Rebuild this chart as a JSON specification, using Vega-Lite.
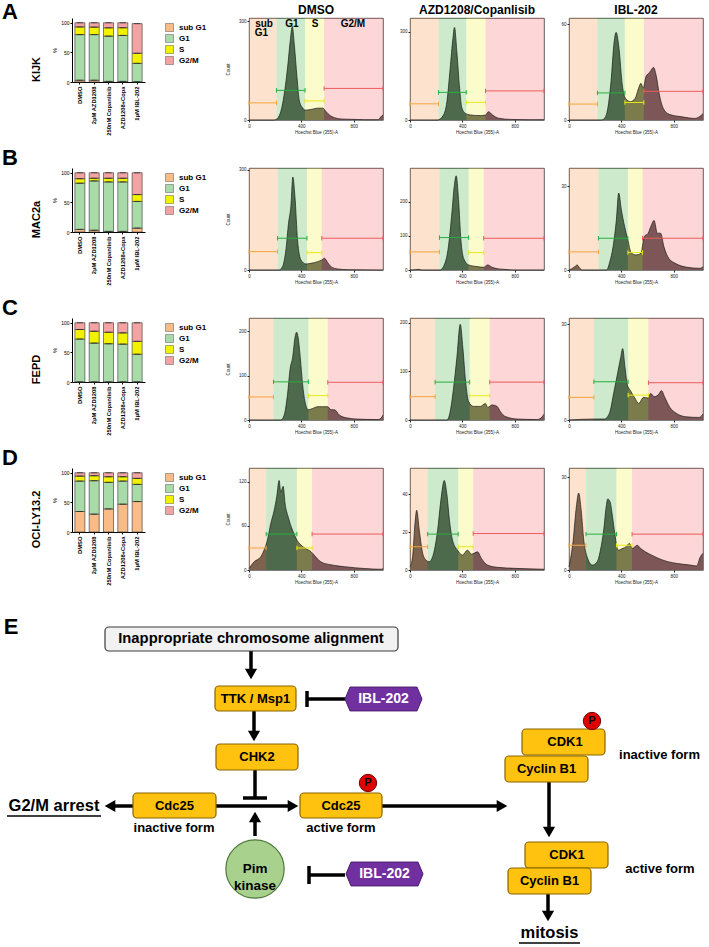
{
"$schema":"https://vega.github.io/schema/vega-lite/v6.json",
"padding":{"left":2,"top":0,"right":0,"bottom":0},
"config":{"font":"Liberation Sans","view":{"stroke":"#333","strokeWidth":0.8},"axis":{"grid":false,"labelColor":"#222","titleColor":"#222","domainColor":"#222","tickColor":"#222","labelFlush":false},"title":{"color":"black"}},
"datasets":{
"bars":[
{"cell":"KIJK","cond":"DMSO","phase":"sub G1","k":0,"pct":3},{"cell":"KIJK","cond":"DMSO","phase":"G1","k":1,"pct":77},{"cell":"KIJK","cond":"DMSO","phase":"S","k":2,"pct":13},{"cell":"KIJK","cond":"DMSO","phase":"G2/M","k":3,"pct":7},
{"cell":"KIJK","cond":"2μM AZD1208","phase":"sub G1","k":0,"pct":3},{"cell":"KIJK","cond":"2μM AZD1208","phase":"G1","k":1,"pct":77},{"cell":"KIJK","cond":"2μM AZD1208","phase":"S","k":2,"pct":12.7},{"cell":"KIJK","cond":"2μM AZD1208","phase":"G2/M","k":3,"pct":7.3},
{"cell":"KIJK","cond":"250nM Copanlisib","phase":"sub G1","k":0,"pct":1},{"cell":"KIJK","cond":"250nM Copanlisib","phase":"G1","k":1,"pct":76.5},{"cell":"KIJK","cond":"250nM Copanlisib","phase":"S","k":2,"pct":14},{"cell":"KIJK","cond":"250nM Copanlisib","phase":"G2/M","k":3,"pct":8.5},
{"cell":"KIJK","cond":"AZD1208+Copa","phase":"sub G1","k":0,"pct":1},{"cell":"KIJK","cond":"AZD1208+Copa","phase":"G1","k":1,"pct":77.6},{"cell":"KIJK","cond":"AZD1208+Copa","phase":"S","k":2,"pct":13},{"cell":"KIJK","cond":"AZD1208+Copa","phase":"G2/M","k":3,"pct":8.4},
{"cell":"KIJK","cond":"1μM IBL-202","phase":"sub G1","k":0,"pct":0.5},{"cell":"KIJK","cond":"1μM IBL-202","phase":"G1","k":1,"pct":31},{"cell":"KIJK","cond":"1μM IBL-202","phase":"S","k":2,"pct":17},{"cell":"KIJK","cond":"1μM IBL-202","phase":"G2/M","k":3,"pct":50},
{"cell":"MAC2a","cond":"DMSO","phase":"sub G1","k":0,"pct":4.4},{"cell":"MAC2a","cond":"DMSO","phase":"G1","k":1,"pct":78},{"cell":"MAC2a","cond":"DMSO","phase":"S","k":2,"pct":7.6},{"cell":"MAC2a","cond":"DMSO","phase":"G2/M","k":3,"pct":10},
{"cell":"MAC2a","cond":"2μM AZD1208","phase":"sub G1","k":0,"pct":3},{"cell":"MAC2a","cond":"2μM AZD1208","phase":"G1","k":1,"pct":83.3},{"cell":"MAC2a","cond":"2μM AZD1208","phase":"S","k":2,"pct":4.4},{"cell":"MAC2a","cond":"2μM AZD1208","phase":"G2/M","k":3,"pct":9.3},
{"cell":"MAC2a","cond":"250nM Copanlisib","phase":"sub G1","k":0,"pct":1},{"cell":"MAC2a","cond":"250nM Copanlisib","phase":"G1","k":1,"pct":83.6},{"cell":"MAC2a","cond":"250nM Copanlisib","phase":"S","k":2,"pct":6.1},{"cell":"MAC2a","cond":"250nM Copanlisib","phase":"G2/M","k":3,"pct":9.3},
{"cell":"MAC2a","cond":"AZD1208+Copa","phase":"sub G1","k":0,"pct":1},{"cell":"MAC2a","cond":"AZD1208+Copa","phase":"G1","k":1,"pct":83.6},{"cell":"MAC2a","cond":"AZD1208+Copa","phase":"S","k":2,"pct":6.1},{"cell":"MAC2a","cond":"AZD1208+Copa","phase":"G2/M","k":3,"pct":9.3},
{"cell":"MAC2a","cond":"1μM IBL-202","phase":"sub G1","k":0,"pct":6.6},{"cell":"MAC2a","cond":"1μM IBL-202","phase":"G1","k":1,"pct":45},{"cell":"MAC2a","cond":"1μM IBL-202","phase":"S","k":2,"pct":11.6},{"cell":"MAC2a","cond":"1μM IBL-202","phase":"G2/M","k":3,"pct":36.8},
{"cell":"FEPD","cond":"DMSO","phase":"sub G1","k":0,"pct":0.3},{"cell":"FEPD","cond":"DMSO","phase":"G1","k":1,"pct":72.3},{"cell":"FEPD","cond":"DMSO","phase":"S","k":2,"pct":16},{"cell":"FEPD","cond":"DMSO","phase":"G2/M","k":3,"pct":11.4},
{"cell":"FEPD","cond":"2μM AZD1208","phase":"sub G1","k":0,"pct":0.3},{"cell":"FEPD","cond":"2μM AZD1208","phase":"G1","k":1,"pct":65.4},{"cell":"FEPD","cond":"2μM AZD1208","phase":"S","k":2,"pct":20},{"cell":"FEPD","cond":"2μM AZD1208","phase":"G2/M","k":3,"pct":14.3},
{"cell":"FEPD","cond":"250nM Copanlisib","phase":"sub G1","k":0,"pct":0.3},{"cell":"FEPD","cond":"250nM Copanlisib","phase":"G1","k":1,"pct":64.3},{"cell":"FEPD","cond":"250nM Copanlisib","phase":"S","k":2,"pct":19.4},{"cell":"FEPD","cond":"250nM Copanlisib","phase":"G2/M","k":3,"pct":16},
{"cell":"FEPD","cond":"AZD1208+Copa","phase":"sub G1","k":0,"pct":0.3},{"cell":"FEPD","cond":"AZD1208+Copa","phase":"G1","k":1,"pct":63.7},{"cell":"FEPD","cond":"AZD1208+Copa","phase":"S","k":2,"pct":19},{"cell":"FEPD","cond":"AZD1208+Copa","phase":"G2/M","k":3,"pct":17},
{"cell":"FEPD","cond":"1μM IBL-202","phase":"sub G1","k":0,"pct":0.3},{"cell":"FEPD","cond":"1μM IBL-202","phase":"G1","k":1,"pct":46.6},{"cell":"FEPD","cond":"1μM IBL-202","phase":"S","k":2,"pct":21.7},{"cell":"FEPD","cond":"1μM IBL-202","phase":"G2/M","k":3,"pct":31.4},
{"cell":"OCI-LY13.2","cond":"DMSO","phase":"sub G1","k":0,"pct":34.6},{"cell":"OCI-LY13.2","cond":"DMSO","phase":"G1","k":1,"pct":51.4},{"cell":"OCI-LY13.2","cond":"DMSO","phase":"S","k":2,"pct":8.4},{"cell":"OCI-LY13.2","cond":"DMSO","phase":"G2/M","k":3,"pct":5.6},
{"cell":"OCI-LY13.2","cond":"2μM AZD1208","phase":"sub G1","k":0,"pct":30.2},{"cell":"OCI-LY13.2","cond":"2μM AZD1208","phase":"G1","k":1,"pct":56.4},{"cell":"OCI-LY13.2","cond":"2μM AZD1208","phase":"S","k":2,"pct":8.4},{"cell":"OCI-LY13.2","cond":"2μM AZD1208","phase":"G2/M","k":3,"pct":5},
{"cell":"OCI-LY13.2","cond":"250nM Copanlisib","phase":"sub G1","k":0,"pct":39},{"cell":"OCI-LY13.2","cond":"250nM Copanlisib","phase":"G1","k":1,"pct":44.8},{"cell":"OCI-LY13.2","cond":"250nM Copanlisib","phase":"S","k":2,"pct":9.5},{"cell":"OCI-LY13.2","cond":"250nM Copanlisib","phase":"G2/M","k":3,"pct":6.7},
{"cell":"OCI-LY13.2","cond":"AZD1208+Copa","phase":"sub G1","k":0,"pct":47},{"cell":"OCI-LY13.2","cond":"AZD1208+Copa","phase":"G1","k":1,"pct":39},{"cell":"OCI-LY13.2","cond":"AZD1208+Copa","phase":"S","k":2,"pct":7.3},{"cell":"OCI-LY13.2","cond":"AZD1208+Copa","phase":"G2/M","k":3,"pct":6.7},
{"cell":"OCI-LY13.2","cond":"1μM IBL-202","phase":"sub G1","k":0,"pct":51.4},{"cell":"OCI-LY13.2","cond":"1μM IBL-202","phase":"G1","k":1,"pct":29},{"cell":"OCI-LY13.2","cond":"1μM IBL-202","phase":"S","k":2,"pct":10.1},{"cell":"OCI-LY13.2","cond":"1μM IBL-202","phase":"G2/M","k":3,"pct":9.5}
],
"gates":[
{"p":"A1","phase":"sub G1","x0":0,"x1":210,"my":52},{"p":"A1","phase":"G1","x0":210,"x1":428,"my":90},{"p":"A1","phase":"S","x0":428,"x1":574,"my":58},{"p":"A1","phase":"G2/M","x0":574,"x1":1024,"my":96},
{"p":"A2","phase":"sub G1","x0":0,"x1":218,"my":55},{"p":"A2","phase":"G1","x0":218,"x1":430,"my":94},{"p":"A2","phase":"S","x0":430,"x1":577,"my":60},{"p":"A2","phase":"G2/M","x0":577,"x1":1024,"my":99},
{"p":"A3","phase":"sub G1","x0":0,"x1":217,"my":10},{"p":"A3","phase":"G1","x0":217,"x1":427,"my":17},{"p":"A3","phase":"S","x0":427,"x1":572,"my":11},{"p":"A3","phase":"G2/M","x0":572,"x1":1024,"my":18},
{"p":"B1","phase":"sub G1","x0":0,"x1":218,"my":55},{"p":"B1","phase":"G1","x0":218,"x1":443,"my":95},{"p":"B1","phase":"S","x0":443,"x1":556,"my":52},{"p":"B1","phase":"G2/M","x0":556,"x1":1024,"my":95},
{"p":"B2","phase":"sub G1","x0":0,"x1":225,"my":53},{"p":"B2","phase":"G1","x0":225,"x1":448,"my":95},{"p":"B2","phase":"S","x0":448,"x1":563,"my":51},{"p":"B2","phase":"G2/M","x0":563,"x1":1024,"my":93},
{"p":"B3","phase":"sub G1","x0":0,"x1":225,"my":6.5},{"p":"B3","phase":"G1","x0":225,"x1":450,"my":11.4},{"p":"B3","phase":"S","x0":450,"x1":562,"my":6.3},{"p":"B3","phase":"G2/M","x0":562,"x1":1024,"my":11.4},
{"p":"C1","phase":"sub G1","x0":0,"x1":187,"my":52},{"p":"C1","phase":"G1","x0":187,"x1":454,"my":86},{"p":"C1","phase":"S","x0":454,"x1":602,"my":55},{"p":"C1","phase":"G2/M","x0":602,"x1":1024,"my":85},
{"p":"C2","phase":"sub G1","x0":0,"x1":192,"my":48},{"p":"C2","phase":"G1","x0":192,"x1":456,"my":78},{"p":"C2","phase":"S","x0":456,"x1":609,"my":50},{"p":"C2","phase":"G2/M","x0":609,"x1":1024,"my":78},
{"p":"C3","phase":"sub G1","x0":0,"x1":190,"my":7.1},{"p":"C3","phase":"G1","x0":190,"x1":452,"my":12},{"p":"C3","phase":"S","x0":452,"x1":607,"my":7.8},{"p":"C3","phase":"G2/M","x0":607,"x1":1024,"my":11.7},
{"p":"D1","phase":"sub G1","x0":0,"x1":131,"my":30},{"p":"D1","phase":"G1","x0":131,"x1":366,"my":49},{"p":"D1","phase":"S","x0":366,"x1":482,"my":30},{"p":"D1","phase":"G2/M","x0":482,"x1":1024,"my":49},
{"p":"D2","phase":"sub G1","x0":0,"x1":135,"my":12.3},{"p":"D2","phase":"G1","x0":135,"x1":368,"my":19},{"p":"D2","phase":"S","x0":368,"x1":483,"my":12.3},{"p":"D2","phase":"G2/M","x0":483,"x1":1024,"my":19.3},
{"p":"D3","phase":"sub G1","x0":0,"x1":130,"my":8},{"p":"D3","phase":"G1","x0":130,"x1":363,"my":11.6},{"p":"D3","phase":"S","x0":363,"x1":482,"my":8},{"p":"D3","phase":"G2/M","x0":482,"x1":1024,"my":11.6}
],
"gatenames":[{"t":"sub","x":115,"y":293},{"t":"G1","x":95,"y":264},{"t":"G1","x":328,"y":293},{"t":"S","x":504,"y":293},{"t":"G2/M","x":794,"y":293}],
"hA1":[{"x":0,"n":0},{"x":100,"n":0},{"x":192,"n":0},{"x":218,"n":5},{"x":244,"n":27},{"x":269,"n":78},{"x":295,"n":160},{"x":315,"n":240},{"x":331,"n":284},{"x":346,"n":230},{"x":367,"n":129},{"x":385,"n":58},{"x":410,"n":37},{"x":428,"n":30},{"x":474,"n":32},{"x":526,"n":36},{"x":564,"n":36},{"x":590,"n":25},{"x":615,"n":15},{"x":654,"n":7},{"x":705,"n":3},{"x":782,"n":2},{"x":885,"n":1},{"x":987,"n":1},{"x":1013,"n":12},{"x":1024,"n":15}],
"hA2":[{"x":0,"n":0},{"x":150,"n":0},{"x":210,"n":0},{"x":256,"n":17},{"x":282,"n":62},{"x":307,"n":176},{"x":328,"n":278},{"x":340,"n":315},{"x":358,"n":233},{"x":379,"n":108},{"x":397,"n":40},{"x":422,"n":23},{"x":462,"n":17},{"x":538,"n":15},{"x":577,"n":17},{"x":600,"n":28},{"x":631,"n":17},{"x":677,"n":6},{"x":769,"n":2},{"x":923,"n":1},{"x":1024,"n":1}],
"hA3":[{"x":0,"n":0},{"x":150,"n":0},{"x":247,"n":0},{"x":271,"n":1},{"x":296,"n":7},{"x":321,"n":24},{"x":345,"n":49},{"x":360,"n":55},{"x":382,"n":45},{"x":407,"n":22},{"x":432,"n":13.6},{"x":469,"n":11.5},{"x":506,"n":13.6},{"x":530,"n":19.5},{"x":550,"n":23},{"x":567,"n":20},{"x":587,"n":27},{"x":617,"n":30},{"x":646,"n":33},{"x":666,"n":28},{"x":691,"n":15.7},{"x":720,"n":7.3},{"x":765,"n":3.6},{"x":863,"n":2},{"x":962,"n":1},{"x":1011,"n":3},{"x":1024,"n":4}],
"hB1":[{"x":0,"n":0},{"x":150,"n":0},{"x":230,"n":0},{"x":256,"n":10},{"x":282,"n":60},{"x":302,"n":140},{"x":320,"n":190},{"x":335,"n":278},{"x":351,"n":220},{"x":371,"n":90},{"x":397,"n":30},{"x":435,"n":18},{"x":474,"n":20},{"x":525,"n":25},{"x":556,"n":30},{"x":576,"n":35},{"x":602,"n":22},{"x":627,"n":10},{"x":678,"n":3},{"x":755,"n":1},{"x":1024,"n":0}],
"hB2":[{"x":0,"n":0},{"x":40,"n":1},{"x":64,"n":2},{"x":90,"n":0},{"x":230,"n":0},{"x":256,"n":10},{"x":294,"n":69},{"x":320,"n":167},{"x":338,"n":245},{"x":353,"n":276},{"x":371,"n":206},{"x":389,"n":88},{"x":410,"n":34},{"x":448,"n":15},{"x":512,"n":10},{"x":563,"n":8},{"x":594,"n":15},{"x":627,"n":8},{"x":666,"n":4},{"x":717,"n":2},{"x":794,"n":0},{"x":1024,"n":0}],
"hB3":[{"x":0,"n":0},{"x":40,"n":1},{"x":62,"n":1.8},{"x":85,"n":0.5},{"x":100,"n":0},{"x":287,"n":0},{"x":312,"n":3},{"x":337,"n":8.4},{"x":362,"n":18},{"x":380,"n":27.6},{"x":400,"n":21.6},{"x":425,"n":15.6},{"x":450,"n":10.8},{"x":475,"n":6.2},{"x":512,"n":5.4},{"x":550,"n":6},{"x":575,"n":12},{"x":605,"n":13.2},{"x":625,"n":15.6},{"x":650,"n":17.8},{"x":675,"n":13.2},{"x":700,"n":13.2},{"x":725,"n":8.4},{"x":762,"n":4.2},{"x":812,"n":2.4},{"x":900,"n":1},{"x":1000,"n":0.6},{"x":1024,"n":1.2}],
"hC1":[{"x":0,"n":0},{"x":150,"n":0},{"x":243,"n":0},{"x":269,"n":11},{"x":294,"n":57},{"x":315,"n":117},{"x":333,"n":140},{"x":351,"n":185},{"x":364,"n":198},{"x":376,"n":185},{"x":392,"n":140},{"x":410,"n":79},{"x":428,"n":41},{"x":453,"n":23},{"x":486,"n":26},{"x":525,"n":30},{"x":563,"n":30},{"x":602,"n":30},{"x":627,"n":23},{"x":653,"n":23},{"x":691,"n":11},{"x":742,"n":5},{"x":832,"n":2},{"x":986,"n":1},{"x":1011,"n":5},{"x":1024,"n":11}],
"hC2":[{"x":0,"n":0},{"x":150,"n":0},{"x":282,"n":0},{"x":307,"n":17},{"x":333,"n":66},{"x":358,"n":128},{"x":384,"n":197},{"x":404,"n":148},{"x":425,"n":79},{"x":448,"n":38},{"x":486,"n":28},{"x":538,"n":28},{"x":576,"n":34},{"x":594,"n":26},{"x":627,"n":31},{"x":666,"n":28},{"x":691,"n":17},{"x":730,"n":7},{"x":819,"n":2},{"x":973,"n":1},{"x":1011,"n":7},{"x":1024,"n":12}],
"hC3":[{"x":0,"n":0},{"x":195,"n":0.3},{"x":270,"n":0.3},{"x":307,"n":1.9},{"x":345,"n":9.2},{"x":375,"n":15.4},{"x":395,"n":19.6},{"x":410,"n":22.4},{"x":428,"n":16.5},{"x":445,"n":11.2},{"x":470,"n":9.2},{"x":507,"n":6.6},{"x":532,"n":5.2},{"x":570,"n":7.1},{"x":600,"n":6.9},{"x":625,"n":8.3},{"x":650,"n":7.3},{"x":682,"n":7.9},{"x":707,"n":9.2},{"x":732,"n":7.1},{"x":770,"n":4},{"x":820,"n":2.1},{"x":895,"n":1},{"x":995,"n":0.8},{"x":1024,"n":1.9}],
"hD1":[{"x":0,"n":2},{"x":38,"n":11},{"x":90,"n":18},{"x":115,"n":27},{"x":141,"n":41},{"x":166,"n":63},{"x":192,"n":81},{"x":212,"n":100},{"x":230,"n":122},{"x":243,"n":106},{"x":261,"n":114},{"x":276,"n":90},{"x":300,"n":72},{"x":333,"n":54},{"x":366,"n":41},{"x":397,"n":34},{"x":435,"n":29},{"x":474,"n":25},{"x":499,"n":20},{"x":550,"n":11},{"x":627,"n":7},{"x":730,"n":4.5},{"x":883,"n":2},{"x":1011,"n":1},{"x":1024,"n":2}],
"hD2":[{"x":0,"n":1.8},{"x":20,"n":7},{"x":38,"n":24.6},{"x":51,"n":31.6},{"x":71,"n":21},{"x":97,"n":8.8},{"x":122,"n":5.3},{"x":147,"n":4.4},{"x":173,"n":7},{"x":211,"n":21},{"x":236,"n":37},{"x":262,"n":47.4},{"x":282,"n":40},{"x":302,"n":26},{"x":325,"n":15.8},{"x":363,"n":10.5},{"x":401,"n":7.9},{"x":439,"n":10.5},{"x":470,"n":8.4},{"x":516,"n":9.6},{"x":546,"n":6.1},{"x":592,"n":2.6},{"x":668,"n":1.4},{"x":795,"n":0.9},{"x":1024,"n":0.4}],
"hD3":[{"x":0,"n":1},{"x":32,"n":9.6},{"x":56,"n":20.4},{"x":74,"n":24.9},{"x":93,"n":19.3},{"x":113,"n":9.6},{"x":142,"n":3.8},{"x":179,"n":1.6},{"x":216,"n":2.7},{"x":240,"n":6.4},{"x":265,"n":12.9},{"x":284,"n":20.4},{"x":296,"n":23},{"x":314,"n":22},{"x":333,"n":17.1},{"x":350,"n":11.8},{"x":375,"n":6.4},{"x":412,"n":7},{"x":436,"n":7.5},{"x":461,"n":8.6},{"x":485,"n":7},{"x":522,"n":8},{"x":546,"n":7},{"x":583,"n":5.9},{"x":632,"n":4.8},{"x":681,"n":3.8},{"x":755,"n":2.7},{"x":828,"n":2.1},{"x":926,"n":1.6},{"x":975,"n":1.3},{"x":1004,"n":4.3},{"x":1024,"n":5.4}],
"boxes":[
{"kind":"event","x":105,"x2":398,"y":628,"y2":652},
{"kind":"gene","x":215,"x2":296,"y":687,"y2":712},
{"kind":"gene","x":216,"x2":298,"y":745,"y2":771},
{"kind":"gene","x":133,"x2":216,"y":794,"y2":819},
{"kind":"gene","x":300,"x2":382,"y":794,"y2":819},
{"kind":"gene","x":522,"x2":605,"y":730,"y2":756},
{"kind":"gene","x":505,"x2":588,"y":757,"y2":783},
{"kind":"gene","x":525,"x2":608,"y":843,"y2":869},
{"kind":"gene","x":508,"x2":591,"y":869,"y2":895}
],
"lines":[
{"x":251,"y":652,"x2":251,"y2":674},{"x":254,"y":712,"x2":254,"y2":736},{"x":133,"y":807,"x2":111,"y2":807},{"x":216,"y":807,"x2":292,"y2":807},
{"x":255,"y":837,"x2":255,"y2":819},{"x":382,"y":807,"x2":501,"y2":807},{"x":549,"y":783,"x2":549,"y2":832},{"x":548,"y":895,"x2":548,"y2":916},
{"x":345,"y":700,"x2":307,"y2":700},{"x":307,"y":692,"x2":307,"y2":708},{"x":255,"y":771,"x2":255,"y2":799},{"x":243,"y":799,"x2":267,"y2":799},
{"x":345,"y":876,"x2":309,"y2":876},{"x":309,"y":867,"x2":309,"y2":885}
],
"heads":[
{"x":251,"y":675,"dir":"down"},{"x":254,"y":737,"dir":"down"},{"x":110,"y":807,"dir":"left"},{"x":293,"y":807,"dir":"right"},
{"x":255,"y":818,"dir":"up"},{"x":502,"y":807,"dir":"right"},{"x":549,"y":833,"dir":"down"},{"x":548,"y":917,"dir":"down"}
],
"underlines":[{"x":7,"y":817,"x2":101,"y2":817},{"x":519,"y":944,"x2":580,"y2":944}],
"spots":[{"kind":"pim","x":255,"y":870},{"kind":"p","x":592,"y":722},{"kind":"p","x":368,"y":784}],
"drugs":[{"x":383.5,"y":700},{"x":384.5,"y":875}],
"texts":[
{"role":"letter","text":"E","x":11,"y":628},
{"role":"head","text":"Inappropriate chromosome alignment","x":251,"y":640},
{"role":"box","text":"TTK / Msp1","x":255.5,"y":699.5},
{"role":"box","text":"CHK2","x":257,"y":758},
{"role":"box","text":"Cdc25","x":174.5,"y":806.5},
{"role":"box","text":"Cdc25","x":341,"y":806.5},
{"role":"box","text":"CDK1","x":565,"y":743},
{"role":"box","text":"Cyclin B1","x":546.5,"y":770},
{"role":"box","text":"CDK1","x":567,"y":856},
{"role":"box","text":"Cyclin B1","x":549.5,"y":882},
{"role":"drug","text":"IBL-202","x":383.5,"y":700},
{"role":"drug","text":"IBL-202","x":384.5,"y":875},
{"role":"p","text":"P","x":592,"y":722},
{"role":"p","text":"P","x":368,"y":784},
{"role":"form","text":"inactive form","x":659.5,"y":756},
{"role":"form","text":"inactive form","x":174,"y":829},
{"role":"form","text":"active form","x":341,"y":829},
{"role":"form","text":"active form","x":660,"y":870},
{"role":"big","text":"G2/M arrest","x":54,"y":807},
{"role":"big","text":"mitosis","x":549.5,"y":934},
{"role":"pim","text":"Pim\nkinase","x":255,"y":870}
]
},
"spacing":13,
"vconcat":[
{
"columns":4,"align":"each","spacing":{"row":10,"column":13},
"resolve":{"scale":{"color":"independent","fill":"independent","x":"independent","y":"independent"},"legend":{"color":"independent"}},
"concat":[
{"width":73,"height":64,"view":{"stroke":null},
 "title":{"text":"A","anchor":"start","frame":"group","dx":-70,"fontSize":22,"fontWeight":"bold","offset":-5.6},
 "data":{"name":"bars"},"transform":[{"filter":"datum.cell=='KIJK'"}],
 "layer":[
  {"mark":{"type":"bar","stroke":"#333","strokeWidth":0.6},
   "encoding":{"x":{"field":"cond","type":"nominal","sort":null,"scale":{"paddingInner":0.3,"paddingOuter":0.2},"axis":{"title":null,"labelAngle":270,"labelFontSize":5.8,"labelFontWeight":"bold","labelColor":"black","tickSize":2,"labelPadding":2,"domainColor":"black","tickColor":"black"}},
    "y":{"field":"pct","type":"quantitative","stack":"zero","scale":{"domain":[0,108],"nice":false},"axis":{"values":[0,50,100],"title":"%","titleFontSize":6,"titleFontWeight":"normal","titlePadding":3,"labelFontSize":5,"tickSize":2,"labelPadding":1,"domainColor":"black","tickColor":"black","labelColor":"black","titleColor":"black"}},
    "color":{"field":"phase","type":"nominal","scale":{"domain":["sub G1","G1","S","G2/M"],"range":["#f9bc86","#a9dba9","#f2f200","#f4a3a3"]},"legend":{"title":null,"orient":"right","offset":15,"padding":5,"labelFontSize":8,"labelFontWeight":"bold","labelColor":"black","symbolType":"square","symbolSize":64,"symbolStrokeWidth":0.5,"symbolStrokeColor":"#555","rowPadding":0,"labelOffset":5}},
    "order":{"field":"k","type":"quantitative"}}},
  {"transform":[{"stack":"pct","groupby":["cond"],"sort":[{"field":"k","order":"ascending"}],"as":["v0","v1"]}],
   "mark":{"type":"tick","color":"#222","thickness":1,"size":6},
   "encoding":{"x":{"field":"cond","type":"nominal","sort":null},"y":{"field":"v1","type":"quantitative","scale":{"domain":[0,108],"nice":false},"axis":{"orient":"left","title":"KIJK","labels":false,"ticks":false,"domain":false,"grid":false,"titleAngle":270,"titleX":-33,"titleY":51,"titleAlign":"center","titleBaseline":"alphabetic","titleFontSize":11,"titleFontWeight":"bold","titleColor":"black"}}}}
 ],
 "resolve":{"scale":{"y":"independent"}}},
{"width":134,"height":102,"title":{"text":"DMSO","fontSize":12,"fontWeight":"bold","offset":1.5},
 "layer":[
  {"data":{"name":"hA1"},"mark":{"type":"area","interpolate":"monotone","color":"#606060","opacity":1},"encoding":{"x":{"field":"x","type":"quantitative","scale":{"domain":[0,1024],"nice":false,"zero":false},"axis":{"values":[0,200,400,600,800,1000],"labelExpr":"datum.value >= 1000 ? '1.0K' : datum.label","labelOverlap":false,"labelFontSize":4.5,"tickSize":2,"labelPadding":1,"title":"Hoechst Blue (355)-A","titleFontSize":4.5,"titleFontWeight":"normal","titlePadding":2,"domain":false}},"y":{"field":"n","type":"quantitative","scale":{"domain":[0,310],"nice":false},"axis":{"values":[0,100,200,300],"labelOverlap":false,"labelFontSize":4.5,"tickSize":2,"labelPadding":1,"domain":false,"title":"Count","titleFontSize":4.5,"titleFontWeight":"normal","titlePadding":7.5}}}},
  {"data":{"name":"gates"},"transform":[{"filter":"datum.p=='A1'"}],"mark":{"type":"rect","opacity":0.2},"encoding":{"x":{"field":"x0","type":"quantitative","scale":{"domain":[0,1024],"nice":false,"zero":false}},"x2":{"field":"x1"},"fill":{"field":"phase","type":"nominal","scale":{"domain":["sub G1","G1","S","G2/M"],"range":["#f57305","#059b00","#f0eb00","#f53737"]},"legend":null}}},
  {"data":{"name":"hA1"},"mark":{"type":"line","interpolate":"monotone","color":"#1a1a1a","strokeWidth":0.7},"encoding":{"x":{"field":"x","type":"quantitative","scale":{"domain":[0,1024],"nice":false,"zero":false}},"y":{"field":"n","type":"quantitative","scale":{"domain":[0,310],"nice":false}}}},
  {"data":{"name":"gates"},"transform":[{"filter":"datum.p=='A1'"}],"mark":{"type":"rule","strokeWidth":1},"encoding":{"x":{"field":"x0","type":"quantitative","scale":{"domain":[0,1024],"nice":false,"zero":false}},"x2":{"field":"x1"},"y":{"field":"my","type":"quantitative","scale":{"domain":[0,310],"nice":false}},"color":{"field":"phase","type":"nominal","scale":{"domain":["sub G1","G1","S","G2/M"],"range":["#f4a340","#27ae3f","#e9e91a","#ee5b5b"]},"legend":null}}},
  {"data":{"name":"gates"},"transform":[{"filter":"datum.p=='A1'"},{"fold":["x0","x1"],"as":["end","xe"]}],"mark":{"type":"point","shape":"stroke","angle":90,"size":20,"filled":false,"strokeWidth":1,"opacity":1},"encoding":{"x":{"field":"xe","type":"quantitative","scale":{"domain":[0,1024],"nice":false,"zero":false}},"y":{"field":"my","type":"quantitative","scale":{"domain":[0,310],"nice":false}},"color":{"field":"phase","type":"nominal","scale":{"domain":["sub G1","G1","S","G2/M"],"range":["#f4a340","#27ae3f","#e9e91a","#ee5b5b"]},"legend":null}}},
  {"data":{"name":"gatenames"},"mark":{"type":"text","fontSize":10,"fontWeight":"bold","color":"black"},"encoding":{"x":{"field":"x","type":"quantitative","scale":{"domain":[0,1024],"nice":false,"zero":false}},"y":{"field":"y","type":"quantitative","scale":{"domain":[0,310],"nice":false}},"text":{"field":"t"}}}
 ]},
{"width":134,"height":102,"title":{"text":"AZD1208/Copanlisib","fontSize":12,"fontWeight":"bold","offset":1.5},
 "layer":[
  {"data":{"name":"hA2"},"mark":{"type":"area","interpolate":"monotone","color":"#606060","opacity":1},"encoding":{"x":{"field":"x","type":"quantitative","scale":{"domain":[0,1024],"nice":false,"zero":false},"axis":{"values":[0,200,400,600,800,1000],"labelExpr":"datum.value >= 1000 ? '1.0K' : datum.label","labelOverlap":false,"labelFontSize":4.5,"tickSize":2,"labelPadding":1,"title":"Hoechst Blue (355)-A","titleFontSize":4.5,"titleFontWeight":"normal","titlePadding":2,"domain":false}},"y":{"field":"n","type":"quantitative","scale":{"domain":[0,347],"nice":false},"axis":{"values":[0,100,200,300],"labelOverlap":false,"labelFontSize":4.5,"tickSize":2,"labelPadding":1,"domain":false,"title":null}}}},
  {"data":{"name":"gates"},"transform":[{"filter":"datum.p=='A2'"}],"mark":{"type":"rect","opacity":0.2},"encoding":{"x":{"field":"x0","type":"quantitative","scale":{"domain":[0,1024],"nice":false,"zero":false}},"x2":{"field":"x1"},"fill":{"field":"phase","type":"nominal","scale":{"domain":["sub G1","G1","S","G2/M"],"range":["#f57305","#059b00","#f0eb00","#f53737"]},"legend":null}}},
  {"data":{"name":"hA2"},"mark":{"type":"line","interpolate":"monotone","color":"#1a1a1a","strokeWidth":0.7},"encoding":{"x":{"field":"x","type":"quantitative","scale":{"domain":[0,1024],"nice":false,"zero":false}},"y":{"field":"n","type":"quantitative","scale":{"domain":[0,347],"nice":false}}}},
  {"data":{"name":"gates"},"transform":[{"filter":"datum.p=='A2'"}],"mark":{"type":"rule","strokeWidth":1},"encoding":{"x":{"field":"x0","type":"quantitative","scale":{"domain":[0,1024],"nice":false,"zero":false}},"x2":{"field":"x1"},"y":{"field":"my","type":"quantitative","scale":{"domain":[0,347],"nice":false}},"color":{"field":"phase","type":"nominal","scale":{"domain":["sub G1","G1","S","G2/M"],"range":["#f4a340","#27ae3f","#e9e91a","#ee5b5b"]},"legend":null}}},
  {"data":{"name":"gates"},"transform":[{"filter":"datum.p=='A2'"},{"fold":["x0","x1"],"as":["end","xe"]}],"mark":{"type":"point","shape":"stroke","angle":90,"size":20,"filled":false,"strokeWidth":1,"opacity":1},"encoding":{"x":{"field":"xe","type":"quantitative","scale":{"domain":[0,1024],"nice":false,"zero":false}},"y":{"field":"my","type":"quantitative","scale":{"domain":[0,347],"nice":false}},"color":{"field":"phase","type":"nominal","scale":{"domain":["sub G1","G1","S","G2/M"],"range":["#f4a340","#27ae3f","#e9e91a","#ee5b5b"]},"legend":null}}}
 ]},
{"width":134,"height":102,"title":{"text":"IBL-202","fontSize":12,"fontWeight":"bold","offset":1.5},
 "layer":[
  {"data":{"name":"hA3"},"mark":{"type":"area","interpolate":"monotone","color":"#606060","opacity":1},"encoding":{"x":{"field":"x","type":"quantitative","scale":{"domain":[0,1024],"nice":false,"zero":false},"axis":{"values":[0,200,400,600,800,1000],"labelExpr":"datum.value >= 1000 ? '1.0K' : datum.label","labelOverlap":false,"labelFontSize":4.5,"tickSize":2,"labelPadding":1,"title":"Hoechst Blue (355)-A","titleFontSize":4.5,"titleFontWeight":"normal","titlePadding":2,"domain":false}},"y":{"field":"n","type":"quantitative","scale":{"domain":[0,64],"nice":false},"axis":{"values":[0,20,40,60],"labelOverlap":false,"labelFontSize":4.5,"tickSize":2,"labelPadding":1,"domain":false,"title":null}}}},
  {"data":{"name":"gates"},"transform":[{"filter":"datum.p=='A3'"}],"mark":{"type":"rect","opacity":0.2},"encoding":{"x":{"field":"x0","type":"quantitative","scale":{"domain":[0,1024],"nice":false,"zero":false}},"x2":{"field":"x1"},"fill":{"field":"phase","type":"nominal","scale":{"domain":["sub G1","G1","S","G2/M"],"range":["#f57305","#059b00","#f0eb00","#f53737"]},"legend":null}}},
  {"data":{"name":"hA3"},"mark":{"type":"line","interpolate":"monotone","color":"#1a1a1a","strokeWidth":0.7},"encoding":{"x":{"field":"x","type":"quantitative","scale":{"domain":[0,1024],"nice":false,"zero":false}},"y":{"field":"n","type":"quantitative","scale":{"domain":[0,64],"nice":false}}}},
  {"data":{"name":"gates"},"transform":[{"filter":"datum.p=='A3'"}],"mark":{"type":"rule","strokeWidth":1},"encoding":{"x":{"field":"x0","type":"quantitative","scale":{"domain":[0,1024],"nice":false,"zero":false}},"x2":{"field":"x1"},"y":{"field":"my","type":"quantitative","scale":{"domain":[0,64],"nice":false}},"color":{"field":"phase","type":"nominal","scale":{"domain":["sub G1","G1","S","G2/M"],"range":["#f4a340","#27ae3f","#e9e91a","#ee5b5b"]},"legend":null}}},
  {"data":{"name":"gates"},"transform":[{"filter":"datum.p=='A3'"},{"fold":["x0","x1"],"as":["end","xe"]}],"mark":{"type":"point","shape":"stroke","angle":90,"size":20,"filled":false,"strokeWidth":1,"opacity":1},"encoding":{"x":{"field":"xe","type":"quantitative","scale":{"domain":[0,1024],"nice":false,"zero":false}},"y":{"field":"my","type":"quantitative","scale":{"domain":[0,64],"nice":false}},"color":{"field":"phase","type":"nominal","scale":{"domain":["sub G1","G1","S","G2/M"],"range":["#f4a340","#27ae3f","#e9e91a","#ee5b5b"]},"legend":null}}}
 ]},
{"width":73,"height":64,"view":{"stroke":null},
 "title":{"text":"B","anchor":"start","frame":"group","dx":-70,"fontSize":22,"fontWeight":"bold","offset":-1.6},
 "data":{"name":"bars"},"transform":[{"filter":"datum.cell=='MAC2a'"}],
 "layer":[
  {"mark":{"type":"bar","stroke":"#333","strokeWidth":0.6},
   "encoding":{"x":{"field":"cond","type":"nominal","sort":null,"scale":{"paddingInner":0.3,"paddingOuter":0.2},"axis":{"title":null,"labelAngle":270,"labelFontSize":5.8,"labelFontWeight":"bold","labelColor":"black","tickSize":2,"labelPadding":2,"domainColor":"black","tickColor":"black"}},
    "y":{"field":"pct","type":"quantitative","stack":"zero","scale":{"domain":[0,108],"nice":false},"axis":{"values":[0,50,100],"title":"%","titleFontSize":6,"titleFontWeight":"normal","titlePadding":3,"labelFontSize":5,"tickSize":2,"labelPadding":1,"domainColor":"black","tickColor":"black","labelColor":"black","titleColor":"black"}},
    "color":{"field":"phase","type":"nominal","scale":{"domain":["sub G1","G1","S","G2/M"],"range":["#f9bc86","#a9dba9","#f2f200","#f4a3a3"]},"legend":{"title":null,"orient":"right","offset":15,"padding":5,"labelFontSize":8,"labelFontWeight":"bold","labelColor":"black","symbolType":"square","symbolSize":64,"symbolStrokeWidth":0.5,"symbolStrokeColor":"#555","rowPadding":0,"labelOffset":5}},
    "order":{"field":"k","type":"quantitative"}}},
  {"transform":[{"stack":"pct","groupby":["cond"],"sort":[{"field":"k","order":"ascending"}],"as":["v0","v1"]}],
   "mark":{"type":"tick","color":"#222","thickness":1,"size":6},
   "encoding":{"x":{"field":"cond","type":"nominal","sort":null},"y":{"field":"v1","type":"quantitative","scale":{"domain":[0,108],"nice":false},"axis":{"orient":"left","title":"MAC2a","labels":false,"ticks":false,"domain":false,"grid":false,"titleAngle":270,"titleX":-33,"titleY":51,"titleAlign":"center","titleBaseline":"alphabetic","titleFontSize":11,"titleFontWeight":"bold","titleColor":"black"}}}}
 ],
 "resolve":{"scale":{"y":"independent"}}},
{"width":134,"height":102,
 "layer":[
  {"data":{"name":"hB1"},"mark":{"type":"area","interpolate":"monotone","color":"#606060","opacity":1},"encoding":{"x":{"field":"x","type":"quantitative","scale":{"domain":[0,1024],"nice":false,"zero":false},"axis":{"values":[0,200,400,600,800,1000],"labelExpr":"datum.value >= 1000 ? '1.0K' : datum.label","labelOverlap":false,"labelFontSize":4.5,"tickSize":2,"labelPadding":1,"title":"Hoechst Blue (355)-A","titleFontSize":4.5,"titleFontWeight":"normal","titlePadding":2,"domain":false}},"y":{"field":"n","type":"quantitative","scale":{"domain":[0,305],"nice":false},"axis":{"values":[0,100,200,300],"labelOverlap":false,"labelFontSize":4.5,"tickSize":2,"labelPadding":1,"domain":false,"title":"Count","titleFontSize":4.5,"titleFontWeight":"normal","titlePadding":7.5}}}},
  {"data":{"name":"gates"},"transform":[{"filter":"datum.p=='B1'"}],"mark":{"type":"rect","opacity":0.2},"encoding":{"x":{"field":"x0","type":"quantitative","scale":{"domain":[0,1024],"nice":false,"zero":false}},"x2":{"field":"x1"},"fill":{"field":"phase","type":"nominal","scale":{"domain":["sub G1","G1","S","G2/M"],"range":["#f57305","#059b00","#f0eb00","#f53737"]},"legend":null}}},
  {"data":{"name":"hB1"},"mark":{"type":"line","interpolate":"monotone","color":"#1a1a1a","strokeWidth":0.7},"encoding":{"x":{"field":"x","type":"quantitative","scale":{"domain":[0,1024],"nice":false,"zero":false}},"y":{"field":"n","type":"quantitative","scale":{"domain":[0,305],"nice":false}}}},
  {"data":{"name":"gates"},"transform":[{"filter":"datum.p=='B1'"}],"mark":{"type":"rule","strokeWidth":1},"encoding":{"x":{"field":"x0","type":"quantitative","scale":{"domain":[0,1024],"nice":false,"zero":false}},"x2":{"field":"x1"},"y":{"field":"my","type":"quantitative","scale":{"domain":[0,305],"nice":false}},"color":{"field":"phase","type":"nominal","scale":{"domain":["sub G1","G1","S","G2/M"],"range":["#f4a340","#27ae3f","#e9e91a","#ee5b5b"]},"legend":null}}},
  {"data":{"name":"gates"},"transform":[{"filter":"datum.p=='B1'"},{"fold":["x0","x1"],"as":["end","xe"]}],"mark":{"type":"point","shape":"stroke","angle":90,"size":20,"filled":false,"strokeWidth":1,"opacity":1},"encoding":{"x":{"field":"xe","type":"quantitative","scale":{"domain":[0,1024],"nice":false,"zero":false}},"y":{"field":"my","type":"quantitative","scale":{"domain":[0,305],"nice":false}},"color":{"field":"phase","type":"nominal","scale":{"domain":["sub G1","G1","S","G2/M"],"range":["#f4a340","#27ae3f","#e9e91a","#ee5b5b"]},"legend":null}}}
 ]},
{"width":134,"height":102,
 "layer":[
  {"data":{"name":"hB2"},"mark":{"type":"area","interpolate":"monotone","color":"#606060","opacity":1},"encoding":{"x":{"field":"x","type":"quantitative","scale":{"domain":[0,1024],"nice":false,"zero":false},"axis":{"values":[0,200,400,600,800,1000],"labelExpr":"datum.value >= 1000 ? '1.0K' : datum.label","labelOverlap":false,"labelFontSize":4.5,"tickSize":2,"labelPadding":1,"title":"Hoechst Blue (355)-A","titleFontSize":4.5,"titleFontWeight":"normal","titlePadding":2,"domain":false}},"y":{"field":"n","type":"quantitative","scale":{"domain":[0,299],"nice":false},"axis":{"values":[0,50,100,150,200,250],"labelOverlap":false,"labelFontSize":4.5,"tickSize":2,"labelPadding":1,"domain":false,"title":null}}}},
  {"data":{"name":"gates"},"transform":[{"filter":"datum.p=='B2'"}],"mark":{"type":"rect","opacity":0.2},"encoding":{"x":{"field":"x0","type":"quantitative","scale":{"domain":[0,1024],"nice":false,"zero":false}},"x2":{"field":"x1"},"fill":{"field":"phase","type":"nominal","scale":{"domain":["sub G1","G1","S","G2/M"],"range":["#f57305","#059b00","#f0eb00","#f53737"]},"legend":null}}},
  {"data":{"name":"hB2"},"mark":{"type":"line","interpolate":"monotone","color":"#1a1a1a","strokeWidth":0.7},"encoding":{"x":{"field":"x","type":"quantitative","scale":{"domain":[0,1024],"nice":false,"zero":false}},"y":{"field":"n","type":"quantitative","scale":{"domain":[0,299],"nice":false}}}},
  {"data":{"name":"gates"},"transform":[{"filter":"datum.p=='B2'"}],"mark":{"type":"rule","strokeWidth":1},"encoding":{"x":{"field":"x0","type":"quantitative","scale":{"domain":[0,1024],"nice":false,"zero":false}},"x2":{"field":"x1"},"y":{"field":"my","type":"quantitative","scale":{"domain":[0,299],"nice":false}},"color":{"field":"phase","type":"nominal","scale":{"domain":["sub G1","G1","S","G2/M"],"range":["#f4a340","#27ae3f","#e9e91a","#ee5b5b"]},"legend":null}}},
  {"data":{"name":"gates"},"transform":[{"filter":"datum.p=='B2'"},{"fold":["x0","x1"],"as":["end","xe"]}],"mark":{"type":"point","shape":"stroke","angle":90,"size":20,"filled":false,"strokeWidth":1,"opacity":1},"encoding":{"x":{"field":"xe","type":"quantitative","scale":{"domain":[0,1024],"nice":false,"zero":false}},"y":{"field":"my","type":"quantitative","scale":{"domain":[0,299],"nice":false}},"color":{"field":"phase","type":"nominal","scale":{"domain":["sub G1","G1","S","G2/M"],"range":["#f4a340","#27ae3f","#e9e91a","#ee5b5b"]},"legend":null}}}
 ]},
{"width":134,"height":102,
 "layer":[
  {"data":{"name":"hB3"},"mark":{"type":"area","interpolate":"monotone","color":"#606060","opacity":1},"encoding":{"x":{"field":"x","type":"quantitative","scale":{"domain":[0,1024],"nice":false,"zero":false},"axis":{"values":[0,200,400,600,800,1000],"labelExpr":"datum.value >= 1000 ? '1.0K' : datum.label","labelOverlap":false,"labelFontSize":4.5,"tickSize":2,"labelPadding":1,"title":"Hoechst Blue (355)-A","titleFontSize":4.5,"titleFontWeight":"normal","titlePadding":2,"domain":false}},"y":{"field":"n","type":"quantitative","scale":{"domain":[0,36.6],"nice":false},"axis":{"values":[0,10,20,30],"labelOverlap":false,"labelFontSize":4.5,"tickSize":2,"labelPadding":1,"domain":false,"title":null}}}},
  {"data":{"name":"gates"},"transform":[{"filter":"datum.p=='B3'"}],"mark":{"type":"rect","opacity":0.2},"encoding":{"x":{"field":"x0","type":"quantitative","scale":{"domain":[0,1024],"nice":false,"zero":false}},"x2":{"field":"x1"},"fill":{"field":"phase","type":"nominal","scale":{"domain":["sub G1","G1","S","G2/M"],"range":["#f57305","#059b00","#f0eb00","#f53737"]},"legend":null}}},
  {"data":{"name":"hB3"},"mark":{"type":"line","interpolate":"monotone","color":"#1a1a1a","strokeWidth":0.7},"encoding":{"x":{"field":"x","type":"quantitative","scale":{"domain":[0,1024],"nice":false,"zero":false}},"y":{"field":"n","type":"quantitative","scale":{"domain":[0,36.6],"nice":false}}}},
  {"data":{"name":"gates"},"transform":[{"filter":"datum.p=='B3'"}],"mark":{"type":"rule","strokeWidth":1},"encoding":{"x":{"field":"x0","type":"quantitative","scale":{"domain":[0,1024],"nice":false,"zero":false}},"x2":{"field":"x1"},"y":{"field":"my","type":"quantitative","scale":{"domain":[0,36.6],"nice":false}},"color":{"field":"phase","type":"nominal","scale":{"domain":["sub G1","G1","S","G2/M"],"range":["#f4a340","#27ae3f","#e9e91a","#ee5b5b"]},"legend":null}}},
  {"data":{"name":"gates"},"transform":[{"filter":"datum.p=='B3'"},{"fold":["x0","x1"],"as":["end","xe"]}],"mark":{"type":"point","shape":"stroke","angle":90,"size":20,"filled":false,"strokeWidth":1,"opacity":1},"encoding":{"x":{"field":"xe","type":"quantitative","scale":{"domain":[0,1024],"nice":false,"zero":false}},"y":{"field":"my","type":"quantitative","scale":{"domain":[0,36.6],"nice":false}},"color":{"field":"phase","type":"nominal","scale":{"domain":["sub G1","G1","S","G2/M"],"range":["#f4a340","#27ae3f","#e9e91a","#ee5b5b"]},"legend":null}}}
 ]},
{"width":73,"height":64,"view":{"stroke":null},
 "title":{"text":"C","anchor":"start","frame":"group","dx":-70,"fontSize":22,"fontWeight":"bold","offset":-1.6},
 "data":{"name":"bars"},"transform":[{"filter":"datum.cell=='FEPD'"}],
 "layer":[
  {"mark":{"type":"bar","stroke":"#333","strokeWidth":0.6},
   "encoding":{"x":{"field":"cond","type":"nominal","sort":null,"scale":{"paddingInner":0.3,"paddingOuter":0.2},"axis":{"title":null,"labelAngle":270,"labelFontSize":5.8,"labelFontWeight":"bold","labelColor":"black","tickSize":2,"labelPadding":2,"domainColor":"black","tickColor":"black"}},
    "y":{"field":"pct","type":"quantitative","stack":"zero","scale":{"domain":[0,108],"nice":false},"axis":{"values":[0,50,100],"title":"%","titleFontSize":6,"titleFontWeight":"normal","titlePadding":3,"labelFontSize":5,"tickSize":2,"labelPadding":1,"domainColor":"black","tickColor":"black","labelColor":"black","titleColor":"black"}},
    "color":{"field":"phase","type":"nominal","scale":{"domain":["sub G1","G1","S","G2/M"],"range":["#f9bc86","#a9dba9","#f2f200","#f4a3a3"]},"legend":{"title":null,"orient":"right","offset":15,"padding":5,"labelFontSize":8,"labelFontWeight":"bold","labelColor":"black","symbolType":"square","symbolSize":64,"symbolStrokeWidth":0.5,"symbolStrokeColor":"#555","rowPadding":0,"labelOffset":5}},
    "order":{"field":"k","type":"quantitative"}}},
  {"transform":[{"stack":"pct","groupby":["cond"],"sort":[{"field":"k","order":"ascending"}],"as":["v0","v1"]}],
   "mark":{"type":"tick","color":"#222","thickness":1,"size":6},
   "encoding":{"x":{"field":"cond","type":"nominal","sort":null},"y":{"field":"v1","type":"quantitative","scale":{"domain":[0,108],"nice":false},"axis":{"orient":"left","title":"FEPD","labels":false,"ticks":false,"domain":false,"grid":false,"titleAngle":270,"titleX":-33,"titleY":51,"titleAlign":"center","titleBaseline":"alphabetic","titleFontSize":11,"titleFontWeight":"bold","titleColor":"black"}}}}
 ],
 "resolve":{"scale":{"y":"independent"}}},
{"width":134,"height":102,
 "layer":[
  {"data":{"name":"hC1"},"mark":{"type":"area","interpolate":"monotone","color":"#606060","opacity":1},"encoding":{"x":{"field":"x","type":"quantitative","scale":{"domain":[0,1024],"nice":false,"zero":false},"axis":{"values":[0,200,400,600,800,1000],"labelExpr":"datum.value >= 1000 ? '1.0K' : datum.label","labelOverlap":false,"labelFontSize":4.5,"tickSize":2,"labelPadding":1,"title":"Hoechst Blue (355)-A","titleFontSize":4.5,"titleFontWeight":"normal","titlePadding":2,"domain":false}},"y":{"field":"n","type":"quantitative","scale":{"domain":[0,230],"nice":false},"axis":{"values":[0,50,100,150,200],"labelOverlap":false,"labelFontSize":4.5,"tickSize":2,"labelPadding":1,"domain":false,"title":"Count","titleFontSize":4.5,"titleFontWeight":"normal","titlePadding":7.5}}}},
  {"data":{"name":"gates"},"transform":[{"filter":"datum.p=='C1'"}],"mark":{"type":"rect","opacity":0.2},"encoding":{"x":{"field":"x0","type":"quantitative","scale":{"domain":[0,1024],"nice":false,"zero":false}},"x2":{"field":"x1"},"fill":{"field":"phase","type":"nominal","scale":{"domain":["sub G1","G1","S","G2/M"],"range":["#f57305","#059b00","#f0eb00","#f53737"]},"legend":null}}},
  {"data":{"name":"hC1"},"mark":{"type":"line","interpolate":"monotone","color":"#1a1a1a","strokeWidth":0.7},"encoding":{"x":{"field":"x","type":"quantitative","scale":{"domain":[0,1024],"nice":false,"zero":false}},"y":{"field":"n","type":"quantitative","scale":{"domain":[0,230],"nice":false}}}},
  {"data":{"name":"gates"},"transform":[{"filter":"datum.p=='C1'"}],"mark":{"type":"rule","strokeWidth":1},"encoding":{"x":{"field":"x0","type":"quantitative","scale":{"domain":[0,1024],"nice":false,"zero":false}},"x2":{"field":"x1"},"y":{"field":"my","type":"quantitative","scale":{"domain":[0,230],"nice":false}},"color":{"field":"phase","type":"nominal","scale":{"domain":["sub G1","G1","S","G2/M"],"range":["#f4a340","#27ae3f","#e9e91a","#ee5b5b"]},"legend":null}}},
  {"data":{"name":"gates"},"transform":[{"filter":"datum.p=='C1'"},{"fold":["x0","x1"],"as":["end","xe"]}],"mark":{"type":"point","shape":"stroke","angle":90,"size":20,"filled":false,"strokeWidth":1,"opacity":1},"encoding":{"x":{"field":"xe","type":"quantitative","scale":{"domain":[0,1024],"nice":false,"zero":false}},"y":{"field":"my","type":"quantitative","scale":{"domain":[0,230],"nice":false}},"color":{"field":"phase","type":"nominal","scale":{"domain":["sub G1","G1","S","G2/M"],"range":["#f4a340","#27ae3f","#e9e91a","#ee5b5b"]},"legend":null}}}
 ]},
{"width":134,"height":102,
 "layer":[
  {"data":{"name":"hC2"},"mark":{"type":"area","interpolate":"monotone","color":"#606060","opacity":1},"encoding":{"x":{"field":"x","type":"quantitative","scale":{"domain":[0,1024],"nice":false,"zero":false},"axis":{"values":[0,200,400,600,800,1000],"labelExpr":"datum.value >= 1000 ? '1.0K' : datum.label","labelOverlap":false,"labelFontSize":4.5,"tickSize":2,"labelPadding":1,"title":"Hoechst Blue (355)-A","titleFontSize":4.5,"titleFontWeight":"normal","titlePadding":2,"domain":false}},"y":{"field":"n","type":"quantitative","scale":{"domain":[0,210],"nice":false},"axis":{"values":[0,50,100,150,200],"labelOverlap":false,"labelFontSize":4.5,"tickSize":2,"labelPadding":1,"domain":false,"title":null}}}},
  {"data":{"name":"gates"},"transform":[{"filter":"datum.p=='C2'"}],"mark":{"type":"rect","opacity":0.2},"encoding":{"x":{"field":"x0","type":"quantitative","scale":{"domain":[0,1024],"nice":false,"zero":false}},"x2":{"field":"x1"},"fill":{"field":"phase","type":"nominal","scale":{"domain":["sub G1","G1","S","G2/M"],"range":["#f57305","#059b00","#f0eb00","#f53737"]},"legend":null}}},
  {"data":{"name":"hC2"},"mark":{"type":"line","interpolate":"monotone","color":"#1a1a1a","strokeWidth":0.7},"encoding":{"x":{"field":"x","type":"quantitative","scale":{"domain":[0,1024],"nice":false,"zero":false}},"y":{"field":"n","type":"quantitative","scale":{"domain":[0,210],"nice":false}}}},
  {"data":{"name":"gates"},"transform":[{"filter":"datum.p=='C2'"}],"mark":{"type":"rule","strokeWidth":1},"encoding":{"x":{"field":"x0","type":"quantitative","scale":{"domain":[0,1024],"nice":false,"zero":false}},"x2":{"field":"x1"},"y":{"field":"my","type":"quantitative","scale":{"domain":[0,210],"nice":false}},"color":{"field":"phase","type":"nominal","scale":{"domain":["sub G1","G1","S","G2/M"],"range":["#f4a340","#27ae3f","#e9e91a","#ee5b5b"]},"legend":null}}},
  {"data":{"name":"gates"},"transform":[{"filter":"datum.p=='C2'"},{"fold":["x0","x1"],"as":["end","xe"]}],"mark":{"type":"point","shape":"stroke","angle":90,"size":20,"filled":false,"strokeWidth":1,"opacity":1},"encoding":{"x":{"field":"xe","type":"quantitative","scale":{"domain":[0,1024],"nice":false,"zero":false}},"y":{"field":"my","type":"quantitative","scale":{"domain":[0,210],"nice":false}},"color":{"field":"phase","type":"nominal","scale":{"domain":["sub G1","G1","S","G2/M"],"range":["#f4a340","#27ae3f","#e9e91a","#ee5b5b"]},"legend":null}}}
 ]},
{"width":134,"height":102,
 "layer":[
  {"data":{"name":"hC3"},"mark":{"type":"area","interpolate":"monotone","color":"#606060","opacity":1},"encoding":{"x":{"field":"x","type":"quantitative","scale":{"domain":[0,1024],"nice":false,"zero":false},"axis":{"values":[0,200,400,600,800,1000],"labelExpr":"datum.value >= 1000 ? '1.0K' : datum.label","labelOverlap":false,"labelFontSize":4.5,"tickSize":2,"labelPadding":1,"title":"Hoechst Blue (355)-A","titleFontSize":4.5,"titleFontWeight":"normal","titlePadding":2,"domain":false}},"y":{"field":"n","type":"quantitative","scale":{"domain":[0,32],"nice":false},"axis":{"values":[0,10,20,30],"labelOverlap":false,"labelFontSize":4.5,"tickSize":2,"labelPadding":1,"domain":false,"title":null}}}},
  {"data":{"name":"gates"},"transform":[{"filter":"datum.p=='C3'"}],"mark":{"type":"rect","opacity":0.2},"encoding":{"x":{"field":"x0","type":"quantitative","scale":{"domain":[0,1024],"nice":false,"zero":false}},"x2":{"field":"x1"},"fill":{"field":"phase","type":"nominal","scale":{"domain":["sub G1","G1","S","G2/M"],"range":["#f57305","#059b00","#f0eb00","#f53737"]},"legend":null}}},
  {"data":{"name":"hC3"},"mark":{"type":"line","interpolate":"monotone","color":"#1a1a1a","strokeWidth":0.7},"encoding":{"x":{"field":"x","type":"quantitative","scale":{"domain":[0,1024],"nice":false,"zero":false}},"y":{"field":"n","type":"quantitative","scale":{"domain":[0,32],"nice":false}}}},
  {"data":{"name":"gates"},"transform":[{"filter":"datum.p=='C3'"}],"mark":{"type":"rule","strokeWidth":1},"encoding":{"x":{"field":"x0","type":"quantitative","scale":{"domain":[0,1024],"nice":false,"zero":false}},"x2":{"field":"x1"},"y":{"field":"my","type":"quantitative","scale":{"domain":[0,32],"nice":false}},"color":{"field":"phase","type":"nominal","scale":{"domain":["sub G1","G1","S","G2/M"],"range":["#f4a340","#27ae3f","#e9e91a","#ee5b5b"]},"legend":null}}},
  {"data":{"name":"gates"},"transform":[{"filter":"datum.p=='C3'"},{"fold":["x0","x1"],"as":["end","xe"]}],"mark":{"type":"point","shape":"stroke","angle":90,"size":20,"filled":false,"strokeWidth":1,"opacity":1},"encoding":{"x":{"field":"xe","type":"quantitative","scale":{"domain":[0,1024],"nice":false,"zero":false}},"y":{"field":"my","type":"quantitative","scale":{"domain":[0,32],"nice":false}},"color":{"field":"phase","type":"nominal","scale":{"domain":["sub G1","G1","S","G2/M"],"range":["#f4a340","#27ae3f","#e9e91a","#ee5b5b"]},"legend":null}}}
 ]},
{"width":73,"height":64,"view":{"stroke":null},
 "title":{"text":"D","anchor":"start","frame":"group","dx":-70,"fontSize":22,"fontWeight":"bold","offset":-1.6},
 "data":{"name":"bars"},"transform":[{"filter":"datum.cell=='OCI-LY13.2'"}],
 "layer":[
  {"mark":{"type":"bar","stroke":"#333","strokeWidth":0.6},
   "encoding":{"x":{"field":"cond","type":"nominal","sort":null,"scale":{"paddingInner":0.3,"paddingOuter":0.2},"axis":{"title":null,"labelAngle":270,"labelFontSize":5.8,"labelFontWeight":"bold","labelColor":"black","tickSize":2,"labelPadding":2,"domainColor":"black","tickColor":"black"}},
    "y":{"field":"pct","type":"quantitative","stack":"zero","scale":{"domain":[0,108],"nice":false},"axis":{"values":[0,50,100],"title":"%","titleFontSize":6,"titleFontWeight":"normal","titlePadding":3,"labelFontSize":5,"tickSize":2,"labelPadding":1,"domainColor":"black","tickColor":"black","labelColor":"black","titleColor":"black"}},
    "color":{"field":"phase","type":"nominal","scale":{"domain":["sub G1","G1","S","G2/M"],"range":["#f9bc86","#a9dba9","#f2f200","#f4a3a3"]},"legend":{"title":null,"orient":"right","offset":15,"padding":5,"labelFontSize":8,"labelFontWeight":"bold","labelColor":"black","symbolType":"square","symbolSize":64,"symbolStrokeWidth":0.5,"symbolStrokeColor":"#555","rowPadding":0,"labelOffset":5}},
    "order":{"field":"k","type":"quantitative"}}},
  {"transform":[{"stack":"pct","groupby":["cond"],"sort":[{"field":"k","order":"ascending"}],"as":["v0","v1"]}],
   "mark":{"type":"tick","color":"#222","thickness":1,"size":6},
   "encoding":{"x":{"field":"cond","type":"nominal","sort":null},"y":{"field":"v1","type":"quantitative","scale":{"domain":[0,108],"nice":false},"axis":{"orient":"left","title":"OCI-LY13.2","labels":false,"ticks":false,"domain":false,"grid":false,"titleAngle":270,"titleX":-33,"titleY":51,"titleAlign":"center","titleBaseline":"alphabetic","titleFontSize":11,"titleFontWeight":"bold","titleColor":"black"}}}}
 ],
 "resolve":{"scale":{"y":"independent"}}},
{"width":134,"height":102,
 "layer":[
  {"data":{"name":"hD1"},"mark":{"type":"area","interpolate":"monotone","color":"#606060","opacity":1},"encoding":{"x":{"field":"x","type":"quantitative","scale":{"domain":[0,1024],"nice":false,"zero":false},"axis":{"values":[0,200,400,600,800,1000],"labelExpr":"datum.value >= 1000 ? '1.0K' : datum.label","labelOverlap":false,"labelFontSize":4.5,"tickSize":2,"labelPadding":1,"title":"Hoechst Blue (355)-A","titleFontSize":4.5,"titleFontWeight":"normal","titlePadding":2,"domain":false}},"y":{"field":"n","type":"quantitative","scale":{"domain":[0,139],"nice":false},"axis":{"values":[0,30,60,90,120],"labelOverlap":false,"labelFontSize":4.5,"tickSize":2,"labelPadding":1,"domain":false,"title":"Count","titleFontSize":4.5,"titleFontWeight":"normal","titlePadding":7.5}}}},
  {"data":{"name":"gates"},"transform":[{"filter":"datum.p=='D1'"}],"mark":{"type":"rect","opacity":0.2},"encoding":{"x":{"field":"x0","type":"quantitative","scale":{"domain":[0,1024],"nice":false,"zero":false}},"x2":{"field":"x1"},"fill":{"field":"phase","type":"nominal","scale":{"domain":["sub G1","G1","S","G2/M"],"range":["#f57305","#059b00","#f0eb00","#f53737"]},"legend":null}}},
  {"data":{"name":"hD1"},"mark":{"type":"line","interpolate":"monotone","color":"#1a1a1a","strokeWidth":0.7},"encoding":{"x":{"field":"x","type":"quantitative","scale":{"domain":[0,1024],"nice":false,"zero":false}},"y":{"field":"n","type":"quantitative","scale":{"domain":[0,139],"nice":false}}}},
  {"data":{"name":"gates"},"transform":[{"filter":"datum.p=='D1'"}],"mark":{"type":"rule","strokeWidth":1},"encoding":{"x":{"field":"x0","type":"quantitative","scale":{"domain":[0,1024],"nice":false,"zero":false}},"x2":{"field":"x1"},"y":{"field":"my","type":"quantitative","scale":{"domain":[0,139],"nice":false}},"color":{"field":"phase","type":"nominal","scale":{"domain":["sub G1","G1","S","G2/M"],"range":["#f4a340","#27ae3f","#e9e91a","#ee5b5b"]},"legend":null}}},
  {"data":{"name":"gates"},"transform":[{"filter":"datum.p=='D1'"},{"fold":["x0","x1"],"as":["end","xe"]}],"mark":{"type":"point","shape":"stroke","angle":90,"size":20,"filled":false,"strokeWidth":1,"opacity":1},"encoding":{"x":{"field":"xe","type":"quantitative","scale":{"domain":[0,1024],"nice":false,"zero":false}},"y":{"field":"my","type":"quantitative","scale":{"domain":[0,139],"nice":false}},"color":{"field":"phase","type":"nominal","scale":{"domain":["sub G1","G1","S","G2/M"],"range":["#f4a340","#27ae3f","#e9e91a","#ee5b5b"]},"legend":null}}}
 ]},
{"width":134,"height":102,
 "layer":[
  {"data":{"name":"hD2"},"mark":{"type":"area","interpolate":"monotone","color":"#606060","opacity":1},"encoding":{"x":{"field":"x","type":"quantitative","scale":{"domain":[0,1024],"nice":false,"zero":false},"axis":{"values":[0,200,400,600,800,1000],"labelExpr":"datum.value >= 1000 ? '1.0K' : datum.label","labelOverlap":false,"labelFontSize":4.5,"tickSize":2,"labelPadding":1,"title":"Hoechst Blue (355)-A","titleFontSize":4.5,"titleFontWeight":"normal","titlePadding":2,"domain":false}},"y":{"field":"n","type":"quantitative","scale":{"domain":[0,54],"nice":false},"axis":{"values":[0,10,20,30,40,50],"labelOverlap":false,"labelFontSize":4.5,"tickSize":2,"labelPadding":1,"domain":false,"title":null}}}},
  {"data":{"name":"gates"},"transform":[{"filter":"datum.p=='D2'"}],"mark":{"type":"rect","opacity":0.2},"encoding":{"x":{"field":"x0","type":"quantitative","scale":{"domain":[0,1024],"nice":false,"zero":false}},"x2":{"field":"x1"},"fill":{"field":"phase","type":"nominal","scale":{"domain":["sub G1","G1","S","G2/M"],"range":["#f57305","#059b00","#f0eb00","#f53737"]},"legend":null}}},
  {"data":{"name":"hD2"},"mark":{"type":"line","interpolate":"monotone","color":"#1a1a1a","strokeWidth":0.7},"encoding":{"x":{"field":"x","type":"quantitative","scale":{"domain":[0,1024],"nice":false,"zero":false}},"y":{"field":"n","type":"quantitative","scale":{"domain":[0,54],"nice":false}}}},
  {"data":{"name":"gates"},"transform":[{"filter":"datum.p=='D2'"}],"mark":{"type":"rule","strokeWidth":1},"encoding":{"x":{"field":"x0","type":"quantitative","scale":{"domain":[0,1024],"nice":false,"zero":false}},"x2":{"field":"x1"},"y":{"field":"my","type":"quantitative","scale":{"domain":[0,54],"nice":false}},"color":{"field":"phase","type":"nominal","scale":{"domain":["sub G1","G1","S","G2/M"],"range":["#f4a340","#27ae3f","#e9e91a","#ee5b5b"]},"legend":null}}},
  {"data":{"name":"gates"},"transform":[{"filter":"datum.p=='D2'"},{"fold":["x0","x1"],"as":["end","xe"]}],"mark":{"type":"point","shape":"stroke","angle":90,"size":20,"filled":false,"strokeWidth":1,"opacity":1},"encoding":{"x":{"field":"xe","type":"quantitative","scale":{"domain":[0,1024],"nice":false,"zero":false}},"y":{"field":"my","type":"quantitative","scale":{"domain":[0,54],"nice":false}},"color":{"field":"phase","type":"nominal","scale":{"domain":["sub G1","G1","S","G2/M"],"range":["#f4a340","#27ae3f","#e9e91a","#ee5b5b"]},"legend":null}}}
 ]},
{"width":134,"height":102,
 "layer":[
  {"data":{"name":"hD3"},"mark":{"type":"area","interpolate":"monotone","color":"#606060","opacity":1},"encoding":{"x":{"field":"x","type":"quantitative","scale":{"domain":[0,1024],"nice":false,"zero":false},"axis":{"values":[0,200,400,600,800,1000],"labelExpr":"datum.value >= 1000 ? '1.0K' : datum.label","labelOverlap":false,"labelFontSize":4.5,"tickSize":2,"labelPadding":1,"title":"Hoechst Blue (355)-A","titleFontSize":4.5,"titleFontWeight":"normal","titlePadding":2,"domain":false}},"y":{"field":"n","type":"quantitative","scale":{"domain":[0,33],"nice":false},"axis":{"values":[0,10,20,30],"labelOverlap":false,"labelFontSize":4.5,"tickSize":2,"labelPadding":1,"domain":false,"title":null}}}},
  {"data":{"name":"gates"},"transform":[{"filter":"datum.p=='D3'"}],"mark":{"type":"rect","opacity":0.2},"encoding":{"x":{"field":"x0","type":"quantitative","scale":{"domain":[0,1024],"nice":false,"zero":false}},"x2":{"field":"x1"},"fill":{"field":"phase","type":"nominal","scale":{"domain":["sub G1","G1","S","G2/M"],"range":["#f57305","#059b00","#f0eb00","#f53737"]},"legend":null}}},
  {"data":{"name":"hD3"},"mark":{"type":"line","interpolate":"monotone","color":"#1a1a1a","strokeWidth":0.7},"encoding":{"x":{"field":"x","type":"quantitative","scale":{"domain":[0,1024],"nice":false,"zero":false}},"y":{"field":"n","type":"quantitative","scale":{"domain":[0,33],"nice":false}}}},
  {"data":{"name":"gates"},"transform":[{"filter":"datum.p=='D3'"}],"mark":{"type":"rule","strokeWidth":1},"encoding":{"x":{"field":"x0","type":"quantitative","scale":{"domain":[0,1024],"nice":false,"zero":false}},"x2":{"field":"x1"},"y":{"field":"my","type":"quantitative","scale":{"domain":[0,33],"nice":false}},"color":{"field":"phase","type":"nominal","scale":{"domain":["sub G1","G1","S","G2/M"],"range":["#f4a340","#27ae3f","#e9e91a","#ee5b5b"]},"legend":null}}},
  {"data":{"name":"gates"},"transform":[{"filter":"datum.p=='D3'"},{"fold":["x0","x1"],"as":["end","xe"]}],"mark":{"type":"point","shape":"stroke","angle":90,"size":20,"filled":false,"strokeWidth":1,"opacity":1},"encoding":{"x":{"field":"xe","type":"quantitative","scale":{"domain":[0,1024],"nice":false,"zero":false}},"y":{"field":"my","type":"quantitative","scale":{"domain":[0,33],"nice":false}},"color":{"field":"phase","type":"nominal","scale":{"domain":["sub G1","G1","S","G2/M"],"range":["#f4a340","#27ae3f","#e9e91a","#ee5b5b"]},"legend":null}}}
 ]}
]
},
{"width":635,"height":347,"view":{"stroke":null},
 "layer":[
  {"data":{"name":"lines"},"mark":{"type":"rule","strokeWidth":3.5,"color":"black"},"encoding":{"x":{"field":"x","type":"quantitative","scale":{"domain":[72,707],"nice":false,"zero":false},"axis":null},"y":{"field":"y","type":"quantitative","scale":{"domain":[600,947],"nice":false,"zero":false,"reverse":true},"axis":null},"x2":{"field":"x2"},"y2":{"field":"y2"}}},
  {"data":{"name":"underlines"},"mark":{"type":"rule","strokeWidth":1.5,"color":"black"},"encoding":{"x":{"field":"x","type":"quantitative","scale":{"domain":[72,707],"nice":false,"zero":false},"axis":null},"y":{"field":"y","type":"quantitative","scale":{"domain":[600,947],"nice":false,"zero":false,"reverse":true},"axis":null},"x2":{"field":"x2"},"y2":{"field":"y2"}}},
  {"data":{"name":"heads"},"mark":{"type":"point","filled":true,"color":"black","size":150,"opacity":1},"encoding":{"x":{"field":"x","type":"quantitative","scale":{"domain":[72,707],"nice":false,"zero":false},"axis":null},"y":{"field":"y","type":"quantitative","scale":{"domain":[600,947],"nice":false,"zero":false,"reverse":true},"axis":null},"shape":{"field":"dir","type":"nominal","scale":{"domain":["up","down","left","right"],"range":["triangle-up","triangle-down","triangle-left","triangle-right"]},"legend":null}}},
  {"data":{"name":"boxes"},"mark":{"type":"rect","cornerRadius":4,"strokeWidth":1.2},"encoding":{"x":{"field":"x","type":"quantitative","scale":{"domain":[72,707],"nice":false,"zero":false},"axis":null},"x2":{"field":"x2"},"y":{"field":"y","type":"quantitative","scale":{"domain":[600,947],"nice":false,"zero":false,"reverse":true},"axis":null},"y2":{"field":"y2"},"fill":{"field":"kind","type":"nominal","scale":{"domain":["event","gene"],"range":["#f2f2f2","#ffc20e"]},"legend":null},"stroke":{"field":"kind","type":"nominal","scale":{"domain":["event","gene"],"range":["#3a3a3a","#8c6400"]},"legend":null}}},
  {"data":{"name":"spots"},"transform":[{"filter":"datum.kind=='pim'"}],"mark":{"type":"point","shape":"circle","filled":true,"color":"#a9d18e","stroke":"#4f7a3a","strokeWidth":1.2,"size":3400,"opacity":1},"encoding":{"x":{"field":"x","type":"quantitative","scale":{"domain":[72,707],"nice":false,"zero":false},"axis":null},"y":{"field":"y","type":"quantitative","scale":{"domain":[600,947],"nice":false,"zero":false,"reverse":true},"axis":null}}},
  {"data":{"name":"spots"},"transform":[{"filter":"datum.kind=='p'"}],"mark":{"type":"point","shape":"circle","filled":true,"color":"#e00000","stroke":"#700000","strokeWidth":1,"size":300,"opacity":1},"encoding":{"x":{"field":"x","type":"quantitative","scale":{"domain":[72,707],"nice":false,"zero":false},"axis":null},"y":{"field":"y","type":"quantitative","scale":{"domain":[600,947],"nice":false,"zero":false,"reverse":true},"axis":null}}},
  {"data":{"name":"drugs"},"mark":{"type":"point","shape":"M-1,0 L-0.87,-0.31 L0.87,-0.31 L1,0 L0.87,0.31 L-0.87,0.31 Z","filled":true,"color":"#7030a0","stroke":"#4a1d6e","strokeWidth":1,"size":5929,"opacity":1},"encoding":{"x":{"field":"x","type":"quantitative","scale":{"domain":[72,707],"nice":false,"zero":false},"axis":null},"y":{"field":"y","type":"quantitative","scale":{"domain":[600,947],"nice":false,"zero":false,"reverse":true},"axis":null}}},
  {"data":{"name":"texts"},"transform":[{"filter":"datum.role=='letter'"}],"mark":{"type":"text","fontSize":22,"fontWeight":"bold","color":"black","baseline":"middle"},"encoding":{"x":{"field":"x","type":"quantitative","scale":{"domain":[72,707],"nice":false,"zero":false},"axis":null},"y":{"field":"y","type":"quantitative","scale":{"domain":[600,947],"nice":false,"zero":false,"reverse":true},"axis":null},"text":{"field":"text"}}},
  {"data":{"name":"texts"},"transform":[{"filter":"datum.role=='head'"}],"mark":{"type":"text","fontSize":14.8,"fontWeight":"bold","color":"black","baseline":"middle"},"encoding":{"x":{"field":"x","type":"quantitative","scale":{"domain":[72,707],"nice":false,"zero":false},"axis":null},"y":{"field":"y","type":"quantitative","scale":{"domain":[600,947],"nice":false,"zero":false,"reverse":true},"axis":null},"text":{"field":"text"}}},
  {"data":{"name":"texts"},"transform":[{"filter":"datum.role=='box'"}],"mark":{"type":"text","fontSize":13,"fontWeight":"bold","color":"black","baseline":"middle"},"encoding":{"x":{"field":"x","type":"quantitative","scale":{"domain":[72,707],"nice":false,"zero":false},"axis":null},"y":{"field":"y","type":"quantitative","scale":{"domain":[600,947],"nice":false,"zero":false,"reverse":true},"axis":null},"text":{"field":"text"}}},
  {"data":{"name":"texts"},"transform":[{"filter":"datum.role=='drug'"}],"mark":{"type":"text","fontSize":14,"fontWeight":"bold","color":"white","baseline":"middle"},"encoding":{"x":{"field":"x","type":"quantitative","scale":{"domain":[72,707],"nice":false,"zero":false},"axis":null},"y":{"field":"y","type":"quantitative","scale":{"domain":[600,947],"nice":false,"zero":false,"reverse":true},"axis":null},"text":{"field":"text"}}},
  {"data":{"name":"texts"},"transform":[{"filter":"datum.role=='p'"}],"mark":{"type":"text","fontSize":11,"fontWeight":"bold","color":"black","baseline":"middle"},"encoding":{"x":{"field":"x","type":"quantitative","scale":{"domain":[72,707],"nice":false,"zero":false},"axis":null},"y":{"field":"y","type":"quantitative","scale":{"domain":[600,947],"nice":false,"zero":false,"reverse":true},"axis":null},"text":{"field":"text"}}},
  {"data":{"name":"texts"},"transform":[{"filter":"datum.role=='form'"}],"mark":{"type":"text","fontSize":13,"fontWeight":"bold","color":"black","baseline":"middle"},"encoding":{"x":{"field":"x","type":"quantitative","scale":{"domain":[72,707],"nice":false,"zero":false},"axis":null},"y":{"field":"y","type":"quantitative","scale":{"domain":[600,947],"nice":false,"zero":false,"reverse":true},"axis":null},"text":{"field":"text"}}},
  {"data":{"name":"texts"},"transform":[{"filter":"datum.role=='big'"}],"mark":{"type":"text","fontSize":16.5,"fontWeight":"bold","color":"black","baseline":"middle"},"encoding":{"x":{"field":"x","type":"quantitative","scale":{"domain":[72,707],"nice":false,"zero":false},"axis":null},"y":{"field":"y","type":"quantitative","scale":{"domain":[600,947],"nice":false,"zero":false,"reverse":true},"axis":null},"text":{"field":"text"}}},
  {"data":{"name":"texts"},"transform":[{"filter":"datum.role=='pim'"}],"mark":{"type":"text","fontSize":13.5,"fontWeight":"bold","color":"black","baseline":"middle","lineBreak":"\n","lineHeight":17},"encoding":{"x":{"field":"x","type":"quantitative","scale":{"domain":[72,707],"nice":false,"zero":false},"axis":null},"y":{"field":"y","type":"quantitative","scale":{"domain":[600,947],"nice":false,"zero":false,"reverse":true},"axis":null},"text":{"field":"text"}}}
 ]}
]
}
